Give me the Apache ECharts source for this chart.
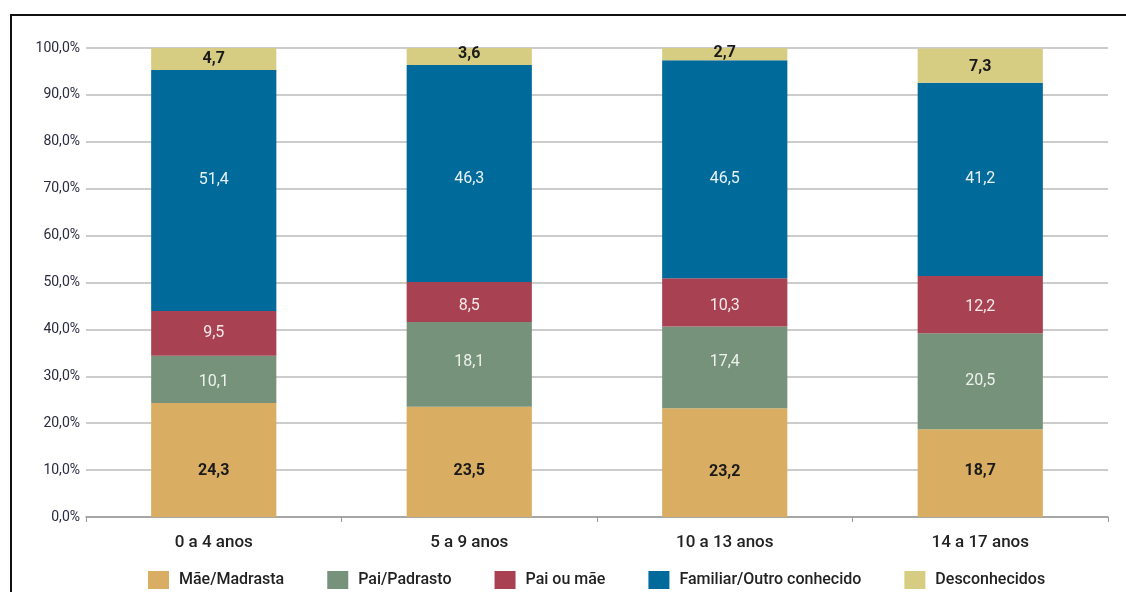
<!DOCTYPE html>
<html>
<head>
<meta charset="utf-8">
<script src="https://cdn.jsdelivr.net/npm/echarts@6/dist/echarts.min.js"></script>
<style>
  html, body { margin: 0; padding: 0; background: #fff; }
  #chart { width: 1126px; height: 592px; }
</style>
</head>
<body>
<div id="chart"></div>
<script>
const categories = ['0 a 4 anos', '5 a 9 anos', '10 a 13 anos', '14 a 17 anos'];
const maeMadrasta = [24.3, 23.5, 23.2, 18.7];
const paiPadrasto = [10.1, 18.1, 17.4, 20.5];
const paiOuMae = [9.5, 8.5, 10.3, 12.2];
const familiar = [51.4, 46.3, 46.5, 41.2];
const desconhecidos = [4.7, 3.6, 2.7, 7.3];

// label nudges (px) so the values sit where the original layout put them
const shiftMae = [11, 9, 9, -2];
const shiftPai = [3, -2, -5, 0];
const shiftPaiMae = [0, 4, 4, 2];
const shiftFamiliar = [-11, 6, 10, 0];
const shiftDesc = [0, -2, -1, 1];

const font = 'Roboto, "Noto Sans", sans-serif';
const fmt = v => v.toFixed(1).replace('.', ',');

function serie(name, values, shifts, color, labelColor, weight) {
  return {
    name, type: 'bar', stack: 'total',
    data: values.map((v, i) => ({ value: v, label: { offset: [0, shifts[i]] } })),
    barWidth: '49%',
    itemStyle: { color },
    label: {
      show: true, position: 'inside', color: labelColor,
      fontFamily: font, fontSize: 16, fontWeight: weight,
      formatter: p => fmt(p.value)
    }
  };
}

const chart = echarts.init(document.getElementById('chart'));
chart.setOption({
  animation: false,
  graphic: [{
    type: 'polyline',
    shape: { points: [[11, 600], [11, 15], [1130, 15]] },
    style: { stroke: '#111', lineWidth: 2, fill: null }
  }],
  grid: { left: 86, right: 18, top: 48, bottom: 75 },
  legend: {
    top: 571, left: 148, padding: 0,
    itemWidth: 21, itemHeight: 18, itemGap: 43,
    icon: 'rect',
    textStyle: { fontFamily: font, fontSize: 16, fontWeight: 500, color: '#222', padding: [0, 0, 0, 5] },
    data: ['Mãe/Madrasta', 'Pai/Padrasto', 'Pai ou mãe', 'Familiar/Outro conhecido', 'Desconhecidos']
  },
  xAxis: {
    type: 'category', data: categories,
    axisLine: { lineStyle: { color: '#999', width: 1.5 } },
    axisTick: { show: true, length: 5, lineStyle: { color: '#999' } },
    axisLabel: { fontFamily: font, fontSize: 17, fontWeight: 500, color: '#222', margin: 17 }
  },
  yAxis: {
    type: 'value', min: 0, max: 100, interval: 10,
    axisLine: { show: false },
    axisTick: { show: false },
    splitLine: { lineStyle: { color: '#bbb', width: 1.5 } },
    axisLabel: {
      fontFamily: font, fontSize: 14, color: '#2a2a40', margin: 6,
      formatter: v => fmt(v) + '%'
    }
  },
  series: [
    serie('Mãe/Madrasta', maeMadrasta, shiftMae, '#D9AE62', '#1a1a1a', 'bold'),
    serie('Pai/Padrasto', paiPadrasto, shiftPai, '#76927A', '#eef2ee', 'normal'),
    serie('Pai ou mãe', paiOuMae, shiftPaiMae, '#A84253', '#f5eaea', 'normal'),
    serie('Familiar/Outro conhecido', familiar, shiftFamiliar, '#006A9A', '#eaf2f8', 'normal'),
    serie('Desconhecidos', desconhecidos, shiftDesc, '#D6CD82', '#1a1a1a', 'bold')
  ]
});
</script>
</body>
</html>
